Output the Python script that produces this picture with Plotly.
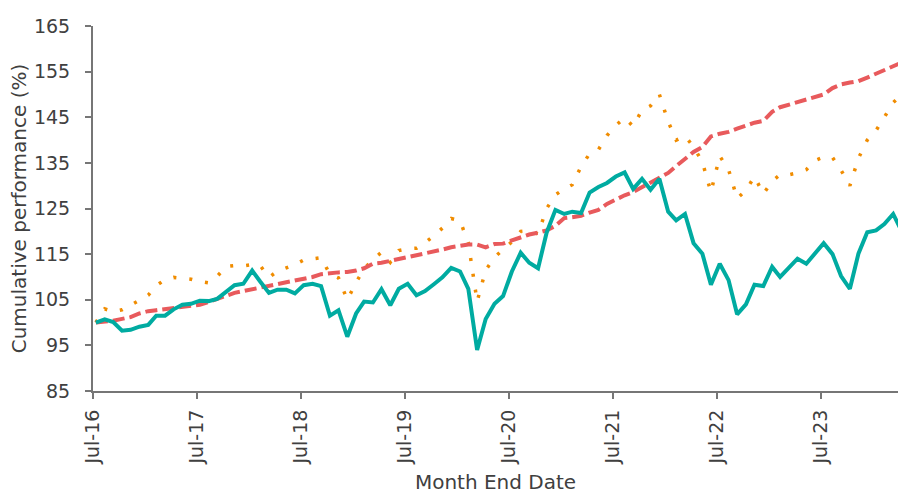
import pandas as pd
import plotly.graph_objects as go

# Monthly observations, Jul-2016 .. Apr-2024 (month-end)
months = (pd.date_range(start="2016-07-01", periods=94, freq="MS") + pd.offsets.MonthEnd(0)).strftime("%Y-%m-%d").tolist()

fund = [
    100.0, 100.7, 100.1, 98.2, 98.4, 99.1, 99.5, 101.5, 101.5, 102.9,
    103.9, 104.1, 104.8, 104.7, 105.2, 106.7, 108.2, 108.5, 111.4, 109.0,
    106.5, 107.2, 107.2, 106.4, 108.2, 108.5, 108.0, 101.5, 102.7, 96.9,
    102.0, 104.6, 104.4, 107.3, 103.8, 107.4, 108.5, 106.0, 106.9, 108.4,
    109.9, 112.0, 111.2, 107.4, 94.0, 100.8, 104.1, 105.8, 111.2, 115.3,
    113.1, 111.9, 119.7, 124.7, 123.8, 124.3, 124.0, 128.5, 129.7, 130.6,
    132.0, 132.9, 129.3, 131.5, 129.1, 131.5, 124.3, 122.4, 123.8, 117.4,
    115.1, 108.3, 112.9, 109.3, 101.8, 104.0, 108.3, 108.0, 112.2, 110.0,
    112.2, 114.0, 112.9, 115.0, 117.4, 115.0, 110.2, 107.4, 115.1, 119.8,
    120.2, 121.6, 123.8, 120.0,
]

index_series = [
    100.0, 103.0, 102.4, 102.8, 103.8, 104.9, 106.0, 108.1, 109.4, 109.9,
    109.7, 109.5, 109.0, 108.7, 110.1, 112.3, 112.5, 112.4, 112.7, 112.5,
    109.9, 111.3, 112.0, 112.7, 113.7, 114.0, 114.2, 110.6, 109.8, 105.0,
    108.8, 111.8, 113.8, 115.4, 113.2, 115.8, 116.2, 116.3, 117.5, 119.0,
    120.7, 122.8, 122.3, 117.5, 104.6, 111.5, 114.3, 116.0, 117.7, 120.0,
    120.2, 119.4, 125.0, 128.0, 129.3, 130.2, 134.2, 137.0, 137.9, 141.0,
    143.2, 144.9, 143.0, 146.6, 147.5, 150.0, 144.0, 140.0, 140.9, 138.5,
    135.2, 128.6, 136.5, 133.5, 127.2, 129.0, 132.0, 128.2, 131.0, 132.4,
    132.4, 132.8, 133.5, 135.5, 136.3, 136.2, 133.4, 130.0, 136.0, 140.0,
    142.1, 145.0, 148.2, 150.0,
]

target = [
    100.0, 100.1, 100.4, 100.8, 101.2, 102.0, 102.5, 102.7, 102.9, 103.2,
    103.4, 103.6, 103.9, 104.5, 105.2, 105.8, 106.5, 106.9, 107.3, 107.6,
    108.0, 108.4, 108.8, 109.3, 109.5, 110.0, 110.6, 110.9, 111.0, 111.1,
    111.4, 111.9, 112.9, 113.1, 113.5, 114.0, 114.3, 114.7, 115.0, 115.5,
    116.0, 116.5, 116.8, 117.1, 117.1, 116.5, 117.2, 117.3, 118.0, 118.7,
    119.3, 119.7, 120.2, 121.2, 122.9, 123.1, 123.4, 124.1, 124.7, 126.0,
    127.0, 127.9, 128.6, 129.6, 130.7, 131.7, 132.8, 134.3, 136.0, 137.4,
    138.5, 140.8, 141.4, 141.8, 142.5, 143.2, 143.8, 144.2, 146.2, 147.2,
    147.8, 148.3, 148.9, 149.4, 150.0, 151.4, 152.2, 152.6, 152.9, 153.7,
    154.6, 155.4, 156.2, 157.0,
]

y_ticks = [85, 95, 105, 115, 125, 135, 145, 155, 165]

TEXT = "#404040"
AXIS = "#767676"
FONT = "DejaVu Sans"

fig = go.Figure()
fig.add_trace(go.Scatter(x=months, y=index_series, mode="lines",
                         line=dict(color="#F08C00", width=3.5, dash="3px,13px"),
                         showlegend=False))
fig.add_trace(go.Scatter(x=months, y=target, mode="lines",
                         line=dict(color="#E85A5C", width=4, dash="12px,5px"),
                         showlegend=False))
fig.add_trace(go.Scatter(x=months, y=fund, mode="lines",
                         line=dict(color="#00ABA1", width=4),
                         showlegend=False))

fig.update_layout(
    width=898, height=494,
    margin=dict(l=93, r=0, t=26, b=103),
    plot_bgcolor="white", paper_bgcolor="white",
    font=dict(family=FONT, color=TEXT, size=19),
    showlegend=False,
)
fig.update_xaxes(
    type="date", automargin=False,
    range=["2016-07-21", "2024-04-17"],
    tick0="2016-07-21", dtick="M12", tickformat="%b-%y",
    tickangle=-90,
    showline=True, linecolor=AXIS, linewidth=2,
    ticks="outside", ticklen=6, tickwidth=1.5, tickcolor=AXIS,
    ticklabelstandoff=3,
    showgrid=False, zeroline=False,
    tickfont=dict(size=19, color=TEXT, family=FONT),
    title=dict(text="Month End Date", font=dict(size=20, color=TEXT, family=FONT), standoff=12),
)
fig.update_yaxes(
    range=[85, 165], tickvals=y_ticks, automargin=False,
    showline=True, linecolor=AXIS, linewidth=2,
    ticks="outside", ticklen=6, tickwidth=1.5, tickcolor=AXIS,
    ticklabelstandoff=11,
    showgrid=False, zeroline=False,
    tickfont=dict(size=19, color=TEXT, family=FONT),
    title=dict(text="Cumulative performance (%)", font=dict(size=20, color=TEXT, family=FONT), standoff=2),
)

# remove the browser's default 8px body margin so the figure fills the window exactly
fig.write_html(
    "out.html",
    config={"displayModeBar": False},
    post_script="document.body.style.margin='0';document.body.style.padding='0';",
)
